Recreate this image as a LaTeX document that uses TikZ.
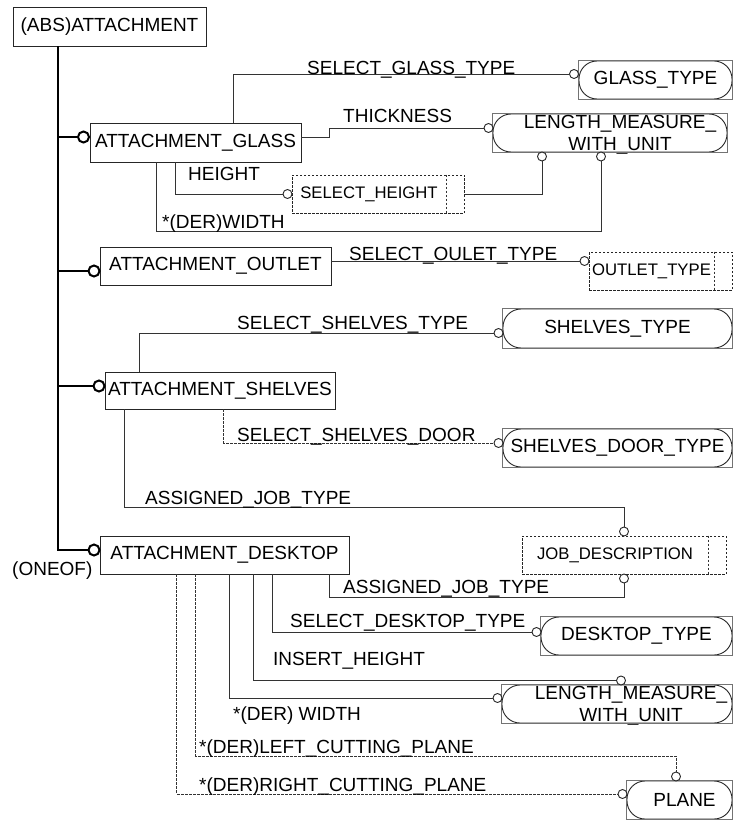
\documentclass[tikz,border=0pt]{standalone}
\usepackage{fontspec}
\setmainfont{Liberation Sans}
\usetikzlibrary{calc}
\newcommand{\fbig}{\fontsize{19}{22}\selectfont}
\newcommand{\fsml}{\fontsize{16.7}{20}\selectfont}
\begin{document}
\begin{tikzpicture}[x=1pt,y=-1pt,
  ent/.style={draw=black!85, line width=0.9pt, inner sep=0pt, font=\fbig},
  typ/.style={draw=black!85, line width=0.9pt, rounded corners=18pt, inner sep=0pt, font=\fbig},
  typrect/.style={draw=black!55, line width=0.7pt},
  deft/.style={draw=black!85, line width=0.8pt, dash pattern=on 2.5pt off 1.5pt, inner sep=0pt, font=\fsml},
  rel/.style={draw=black!80, line width=0.9pt},
  drel/.style={rel, dash pattern=on 2.5pt off 1.5pt},
  oc/.style={circle, draw=black!85, fill=white, line width=0.9pt, inner sep=0pt, minimum size=9pt},
  sub/.style={draw=black, line width=2.8pt},
  ocb/.style={circle, draw=black, fill=white, line width=2pt, inner sep=0pt, minimum size=11pt},
  lab/.style={anchor=base west, inner sep=0pt, font=\fbig},
]
\useasboundingbox (0,0) rectangle (733,821);

% entities
\node[ent, minimum width=193pt, minimum height=39pt] (abs) at (109.5,26.5) {(ABS)ATTACHMENT};
\node[ent, minimum width=211pt, minimum height=39pt] (glass) at (195.5,142.5) {ATTACHMENT\_GLASS};
\node[ent, minimum width=231pt, minimum height=38pt] (outlet) at (215.5,266) {ATTACHMENT\_OUTLET};
\node[ent, minimum width=230pt, minimum height=37pt] (shelves) at (220,390.5) {ATTACHMENT\_SHELVES};
\node[ent, minimum width=249pt, minimum height=38pt] (desktop) at (224.5,555) {ATTACHMENT\_DESKTOP};

% simple / select types
\node[typ, minimum width=153pt, minimum height=38pt] (gt) at (655.5,80) {GLASS\_TYPE};
\node[typ, minimum width=234pt, minimum height=38pt] (lm1) at (610,133) {};
\node[inner sep=0pt, font=\fbig, align=center] (lm1t) at (620,135) {LENGTH\_MEASURE\_\\WITH\_UNIT};
\node[typ, minimum width=229pt, minimum height=39pt] (st) at (617.5,328.5) {SHELVES\_TYPE};
\node[typ, minimum width=229pt, minimum height=38pt] (sdt) at (617.5,448) {SHELVES\_DOOR\_TYPE};
\node[typ, minimum width=191pt, minimum height=38pt] (dt) at (636.5,636) {DESKTOP\_TYPE};
\node[typ, minimum width=230pt, minimum height=38pt] (lm2) at (617,704) {};
\node[inner sep=0pt, font=\fbig, align=center] (lm2t) at (631,706) {LENGTH\_MEASURE\_\\WITH\_UNIT};
\node[typ, minimum width=105pt, minimum height=38pt] (pl) at (679.5,800) {\hspace*{10pt}PLANE};
\foreach \n in {gt,lm1,st,sdt,dt,lm2,pl}
  \draw[typrect] (\n.south west) rectangle (\n.north east);

% defined types
\node[deft, minimum width=172pt, minimum height=38pt] (selh) at (378,194) {SELECT\_HEIGHT\hspace*{18pt}};
\node[deft, minimum width=143pt, minimum height=38pt] (ot) at (660.5,271) {OUTLET\_TYPE\hspace*{18pt}};
\node[deft, minimum width=204pt, minimum height=38pt] (jd) at (624,555) {JOB\_DESCRIPTION\hspace*{18pt}};
\foreach \n in {selh,ot,jd}
  \draw[drel, line width=0.8pt] ([xshift=-18pt]\n.north east) -- ([xshift=-18pt]\n.south east);

% relationship end circles
\node[oc] (cgt) at (574,74) {};
\node[oc] (cth) at (488.5,128) {};
\node[oc] (csh) at (287.5,194) {};
\node[oc] (cl1a) at (542,156.5) {};
\node[oc] (cl1b) at (601,156.5) {};
\node[oc] (cot) at (584.5,261) {};
\node[oc] (cst) at (498.5,333) {};
\node[oc] (csdt) at (498.5,443) {};
\node[oc] (cjd1) at (624,531.5) {};
\node[oc] (cjd2) at (624,578.5) {};
\node[oc] (cdt) at (536.5,632) {};
\node[oc] (cl2t) at (621,680.5) {};
\node[oc] (cl2l) at (497.5,698) {};
\node[oc] (cplt) at (676,776.5) {};
\node[oc] (cpll) at (622.5,794) {};

% subtype circles
\node[ocb] (cg) at (83.5,137) {};
\node[ocb] (co) at (94,271) {};
\node[ocb] (cs) at (99,386) {};
\node[ocb] (cd) at (94,550) {};

% subtype tree
\coordinate (t1) at (58,137);
\coordinate (t2) at (58,271);
\coordinate (t3) at (58,386);
\draw[sub] ([xshift=-51.5pt]abs.south) |- (cd);
\draw[sub] (t1) -- (cg);
\draw[sub] (t2) -- (co);
\draw[sub] (t3) -- (cs);

% relationships
\coordinate (w1) at (601,231);
\coordinate (j1) at (624,507);
\coordinate (j2) at (624,597);
\coordinate (p1) at (676,756);
\draw[rel] ([xshift=144pt]glass.north west) |- (cgt);
\draw[rel] ([yshift=5.5pt]glass.east) -- ++(28,0) |- (cth);
\draw[rel] ([xshift=86pt]glass.south west) |- (csh);
\draw[rel] (selh.east) -| (cl1a);
\draw[rel] ([xshift=67pt]glass.south west) |- (w1) -- (cl1b);
\draw[rel] ([yshift=5pt]outlet.east) -- (cot);
\draw[rel] ([xshift=35pt]shelves.north west) |- (cst);
\draw[drel] ([xshift=119pt]shelves.south west) |- (csdt);
\draw[rel] ([xshift=20pt]shelves.south west) |- (j1) -- (cjd1);
\draw[rel] ([xshift=230pt]desktop.south west) |- (j2) -- (cjd2);
\draw[rel] ([xshift=173pt]desktop.south west) |- (cdt);
\draw[rel] ([xshift=154pt]desktop.south west) |- (cl2t);
\draw[rel] ([xshift=130pt]desktop.south west) |- (cl2l);
\draw[drel] ([xshift=96pt]desktop.south west) |- (p1) -- (cplt);
\draw[drel] ([xshift=77pt]desktop.south west) |- (cpll);

% labels
\node[lab] (l1) at (307,75) {SELECT\_GLASS\_TYPE};
\node[lab] (l2) at (343,123) {THICKNESS};
\node[lab] (l3) at (188,180) {HEIGHT};
\node[lab] (l4) at (162,228) {*(DER)WIDTH};
\node[lab] (l5) at (349,260) {SELECT\_OULET\_TYPE};
\node[lab] (l6) at (237,329) {SELECT\_SHELVES\_TYPE};
\node[lab] (l7) at (237,441) {SELECT\_SHELVES\_DOOR};
\node[lab] (l8) at (145,504) {ASSIGNED\_JOB\_TYPE};
\node[lab] (l9) at (343,593) {ASSIGNED\_JOB\_TYPE};
\node[lab] (l10) at (290,627) {SELECT\_DESKTOP\_TYPE};
\node[lab] (l11) at (273,665) {INSERT\_HEIGHT};
\node[lab] (l12) at (233,720) {*(DER) WIDTH};
\node[lab] (l13) at (199,753) {*(DER)LEFT\_CUTTING\_PLANE};
\node[lab] (l14) at (199,791) {*(DER)RIGHT\_CUTTING\_PLANE};
\node[lab] (l15) at (12,575) {(ONEOF)};
\end{tikzpicture}
\end{document}
